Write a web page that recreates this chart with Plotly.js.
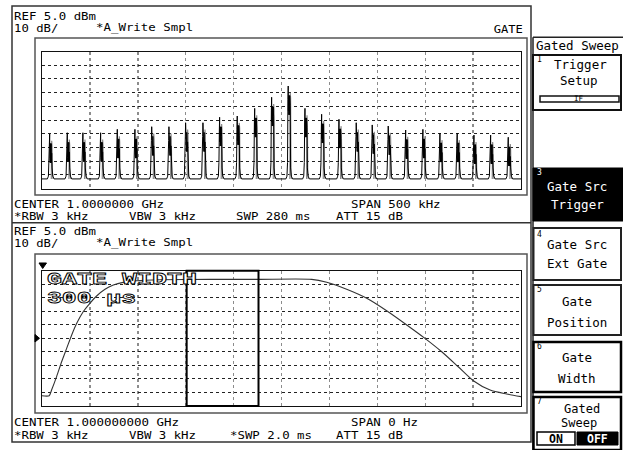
<!DOCTYPE html>
<html>
<head>
<meta charset="utf-8">
<script src="https://cdn.plot.ly/plotly-3.0.1.min.js"></script>
<style>html,body{margin:0;padding:0;background:#fff;}#chart{width:623px;height:450px;}</style>
</head>
<body>
<div id="chart"></div>
<script>
// ---------------- DATA ----------------
// Upper screen: gated sweep spectrum, span 500 kHz around 1 GHz
const peakFreqKHz = [-240.9,-222.5,-206.2,-187.7,-170.3,-151.9,-134.4,-116.4,-99.0,-80.9,-63.5,-45.1,-26.9,-9.2,8.1,25.6,43.0,61.1,79.1,95.8,112.5,130.7,148.7,166.5,184.5,202.0,219.4,237.8];
const peakLevelDbm = [-55.2,-54.3,-54.3,-54.3,-51.8,-51.8,-49.9,-49.9,-47.0,-47.0,-43.0,-42.1,-36.5,-28.4,-20.2,-36.5,-40.8,-44.5,-47.0,-48.6,-49.4,-52.3,-51.8,-54.7,-54.7,-56.0,-56.0,-57.6];
const noiseFloorDbm = -88;
// Lower screen: zero span, sweep 2.0 ms
const gateTimeMs   = [0, 0.03, 0.04, 0.061, 0.082, 0.103, 0.124, 0.145, 0.172, 0.2, 0.228, 0.263, 0.298, 0.339, 0.395, 0.493, 0.7, 0.9, 1.126, 1.189, 1.272, 1.356, 1.439, 1.523, 1.599, 1.669, 1.738, 1.801, 1.871, 1.94, 2.0];
const gateLevelDbm = [-87.4, -87.4, -83.2, -73.3, -62.3, -52.4, -42.5, -33.9, -25.3, -19.1, -13.7, -8.7, -5.6, -3.6, -2.4, -1.7, -1.4, -1.4, -1.4, -3.6, -8.7, -15.4, -24.6, -35.1, -45.0, -54.9, -66.0, -76.3, -83.2, -86.1, -88.1];
const gateStartMs = 0.604;
const gateWidthMs = 0.3;
const refLevelDbm = 5.0;
const dbPerDiv = 10;
const spanKHz = 500;
const sweepMs = 2.0;
// Texts
const hdrRef = "REF 5.0 dBm";
const hdrScale = "10 dB/";
const hdrTrace = "*A_Write Smpl";
const hdrGate = "GATE";
const top1 = ["CENTER 1.0000000 GHz", "*RBW 3 kHz", "VBW 3 kHz", "SWP 280 ms", "SPAN 500 kHz", "ATT 15 dB"];
const bot2 = ["CENTER 1.000000000 GHz", "*RBW 3 kHz", "VBW 3 kHz", "*SWP 2.0 ms", "SPAN 0 Hz", "ATT 15 dB"];
const gateLabel = ["GATE WIDTH", "300 \u03bcs"];
const softMenuTitle = "Gated Sweep";

// ---------------- helpers ----------------
const W = 623, H = 450;
const px = v => v / W, py = v => 1 - v / H;
const MONO = "DejaVu Sans Mono";
const CHAR_W = 7.55;           // character pitch of the instrument font
const stretchTexts = [];       // texts drawn with a fixed character pitch
function rect(x0, y0, x1, y1, color, width, fill) {
  return {type:'rect', xref:'paper', yref:'paper', x0:px(x0), x1:px(x1), y0:py(y1), y1:py(y0),
          line:{color:color, width:width}, fillcolor: fill || 'rgba(0,0,0,0)', layer:'above'};
}
function seg(x0, y0, x1, y1, color, width) {
  return {type:'line', xref:'paper', yref:'paper', x0:px(x0), x1:px(x1), y0:py(y0), y1:py(y1),
          line:{color:color, width:width}, layer:'above'};
}
function tri(pts) {
  let d = pts.map((p, i) => (i ? 'L ' : 'M ') + px(p[0]).toFixed(5) + ' ' + py(p[1]).toFixed(5)).join(' ') + ' Z';
  return {type:'path', xref:'paper', yref:'paper', path:d, fillcolor:'#000', line:{color:'#000', width:1}, layer:'above'};
}
function txt(s, x, y, o) {
  o = o || {};
  return {text:s, xref:'paper', yref:'paper', x:px(x), y:py(y), xanchor:o.anchor || 'left', yanchor:'middle',
          showarrow:false, align:o.align || 'center', borderpad:0,
          font:{family:o.family || MONO, size:o.size || 12.5, color:o.color || '#000', weight:o.weight || 'normal'}};
}
// status-line text: small font, stretched to the instrument's character pitch
function stat(s, x, y, anchor) {
  stretchTexts.push(s);
  return txt(s, x, y, {anchor: anchor || 'left', align: anchor === 'right' ? 'right' : 'left', size: 10.3});
}

// ---------------- spectrum trace built from peak list ----------------
const bx = [-spanKHz/2], by = [noiseFloorDbm];
const gx = [], gy = [];
const F = noiseFloorDbm;
for (let i = 0; i < peakFreqKHz.length; i++) {
  const f = peakFreqKHz[i], P = peakLevelDbm[i];
  bx.push(f-3.5, f-2.4, f-1.8, f-1.4, f-1.1, f-0.9);
  by.push(F, F+2, F+12, P-10, P, P-18);
  for (let k = 0; k <= 7; k++) { bx.push(f - 0.7 + 0.2*k); by.push(k % 2 ? P-21 : P-7); }
  bx.push(f+1.0, f+1.4, f+2.2, f+3.5);
  by.push(P-14, F+8, F+2, F);
  gx.push(f+0.6, f+1.0, f+1.4, f+1.8, f+2.4, null);
  gy.push(F, P-5, P-9, F+4, F, null);
}
bx.push(spanKHz/2); by.push(noiseFloorDbm);

const data = [
  {x:gx, y:gy, xaxis:'x', yaxis:'y', mode:'lines', line:{color:'#8a8a8a', width:1.2}, hoverinfo:'skip', connectgaps:false},
  {x:bx, y:by, xaxis:'x', yaxis:'y', mode:'lines', line:{color:'#000', width:1}, hoverinfo:'skip'},
  {x:gateTimeMs, y:gateLevelDbm, xaxis:'x2', yaxis:'y2', mode:'lines', line:{color:'#333', width:1.1, shape:'spline', smoothing:0.7}, hoverinfo:'skip'}
];

const gx0 = 42, gx1 = 521;
function xax(range, dtick, anchor) {
  return {domain:[px(gx0), px(gx1)], range:range, dtick:dtick, tick0:range[0], anchor:anchor,
          showticklabels:false, ticks:'', zeroline:false, showline:true, mirror:true, linecolor:'#111', linewidth:1,
          showgrid:true, gridcolor:'#8c8c8c', gridwidth:1.4, griddash:'dot', fixedrange:true};
}
function yax(dom, anchor) {
  return {domain:dom, range:[refLevelDbm - 10*dbPerDiv, refLevelDbm], dtick:dbPerDiv, tick0:refLevelDbm, anchor:anchor,
          showticklabels:false, ticks:'', zeroline:false, showline:true, mirror:true, linecolor:'#111', linewidth:1,
          showgrid:true, gridcolor:'#222', gridwidth:1, griddash:'dot', fixedrange:true};
}

const shapes = [
  // display frame
  rect(12, 6, 531, 442, '#333', 1.5),
  seg(12, 222.7, 531, 222.7, '#333', 1.5),
  rect(35, 38, 527, 195, '#555', 1.5),
  rect(35, 254, 527, 413, '#555', 1.5),
  // gate window
  {type:'rect', xref:'x2', yref:'y2 domain', x0:gateStartMs, x1:gateStartMs + gateWidthMs, y0:0, y1:1,
   line:{color:'#000', width:2}, fillcolor:'rgba(0,0,0,0)', layer:'above'},
  tri([[39, 263], [46.5, 263], [42.7, 268.5]]),
  tri([[35, 334.5], [39.5, 338.3], [35, 342]]),
  // soft-key panel
  seg(533, 37.3, 533, 450, '#222', 1.5),
  seg(533, 37.3, 623, 37.3, '#222', 1.5),
  rect(533, 55, 621, 110, '#111', 2),
  rect(540, 96, 619, 102, '#111', 1.5),
  rect(533, 168, 623, 221, '#000', 1, '#000'),
  rect(533.5, 228, 621, 280, '#222', 2),
  rect(533.5, 285, 621, 335, '#222', 2),
  rect(533.5, 342, 621, 392, '#000', 2.5),
  rect(533.5, 397, 621, 450, '#000', 2.5),
  rect(537, 432, 575, 445, '#000', 1.5, '#fff'),
  rect(577, 432, 618, 445, '#000', 1, '#000')
];

const annotations = [
  stat(hdrRef, 13, 15.5), stat(hdrScale, 13, 27.5), stat(hdrTrace, 95, 27.5), stat(hdrGate, 524, 28.5, 'right'),
  stat(top1[0], 13, 204), stat(top1[1], 13, 216.2), stat(top1[2], 128, 216.2), stat(top1[3], 235, 216.2),
  stat(top1[4], 350, 204), stat(top1[5], 335, 216.2),
  stat(hdrRef, 13, 230.5), stat(hdrScale, 13, 242.5), stat(hdrTrace, 95, 242.5),
  stat(bot2[0], 13, 422.3), stat(bot2[1], 13, 434.5), stat(bot2[2], 128, 434.5), stat(bot2[3], 229, 434.5),
  stat(bot2[4], 350, 422.3), stat(bot2[5], 335, 434.5),
  txt(gateLabel[0], 46, 279.5, {family:'Liberation Mono', size:16.5, align:'left', weight:'bold'}),
  txt(gateLabel[1], 46, 298.5, {family:'Liberation Mono', size:16.5, align:'left', weight:'bold'}),
  // soft keys
  txt(softMenuTitle, 577, 45.5, {anchor:'center', size:12.5}),
  txt("1", 536, 59, {size:8}), txt("Trigger", 580, 64.5, {anchor:'center', size:12.5}),
  txt("Setup", 579, 80.5, {anchor:'center', size:12.5}), txt("IF", 579, 99, {anchor:'center', size:7.5}),
  txt("3", 536, 172, {size:8, color:'#fff'}), txt("Gate Src", 577, 186, {anchor:'center', size:12.5, color:'#fff'}),
  txt("Trigger", 577, 205, {anchor:'center', size:12.5, color:'#fff'}),
  txt("4", 536, 234, {size:8}), txt("Gate Src", 577, 244, {anchor:'center', size:12.5}),
  txt("Ext Gate", 577, 263, {anchor:'center', size:12.5}),
  txt("5", 536, 289, {size:8}), txt("Gate", 577, 301, {anchor:'center', size:12.5}),
  txt("Position", 577, 322, {anchor:'center', size:12.5}),
  txt("6", 536, 346, {size:8}), txt("Gate", 577, 357, {anchor:'center', size:12.5}),
  txt("Width", 577, 378, {anchor:'center', size:12.5}),
  txt("7", 536, 401, {size:8}), txt("Gated", 582, 408.5, {anchor:'center', size:12}),
  txt("Sweep", 579, 423, {anchor:'center', size:12}),
  txt("ON", 556, 438.5, {anchor:'center', size:11.5, weight:'bold'}),
  txt("OFF", 597.5, 438.5, {anchor:'center', size:11.5, weight:'bold', color:'#fff'})
];

const layout = {
  width:W, height:H, margin:{l:0, r:0, t:0, b:0, pad:0},
  paper_bgcolor:'#fff', plot_bgcolor:'#fff', showlegend:false,
  xaxis: xax([-spanKHz/2, spanKHz/2], 50, 'y'),
  yaxis: yax([py(188.5), py(51.5)], 'x'),
  xaxis2: xax([0, sweepMs], 0.2, 'y2'),
  yaxis2: yax([py(406), py(270.7)], 'x2'),
  shapes: shapes,
  annotations: annotations
};

Plotly.newPlot('chart', data, layout, {staticPlot:true, displayModeBar:false}).then(function () {
  document.querySelectorAll('text.annotation-text').forEach(function (t) {
    const s = t.textContent;
    if (s === gateLabel[0] || s === gateLabel[1]) {
      t.setAttribute('textLength', s === gateLabel[0] ? 150 : 89);
      t.setAttribute('lengthAdjust', 'spacingAndGlyphs');
      t.style.fill = '#fff';
      t.style.stroke = '#000';
      t.style.strokeWidth = '0.8px';
    } else if (stretchTexts.indexOf(s) >= 0) {
      t.setAttribute('textLength', (s.length * CHAR_W - 1).toFixed(1));
      t.setAttribute('lengthAdjust', 'spacingAndGlyphs');
    }
  });
});
</script>
</body>
</html>
